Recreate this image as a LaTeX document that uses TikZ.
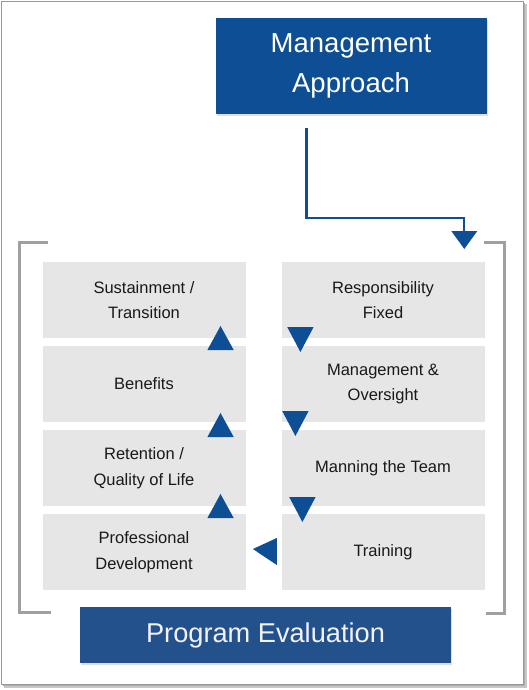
\documentclass[tikz,border=0pt]{standalone}
\usepackage{fontspec}
\setmainfont{Liberation Sans}
\usepackage{xcolor}
\usepackage{tikz}
\usetikzlibrary{arrows.meta,positioning,shadows}
\definecolor{mblue}{RGB}{14,78,148}
\definecolor{eblue}{RGB}{34,81,140}
\definecolor{boxgray}{RGB}{230,230,230}
\definecolor{brack}{RGB}{160,160,160}

\begin{document}
\begin{tikzpicture}[x=1pt,y=-1pt,
    stage/.style={rectangle,fill=boxgray,minimum width=203pt,minimum height=76pt,
      align=center,font=\fontsize{16.5}{25.5}\selectfont,text=black!90,inner sep=0pt},
    headbox/.style={rectangle,fill=mblue,text=white,align=center,inner sep=0pt,
      drop shadow={shadow xshift=1pt,shadow yshift=-2pt,opacity=0.25}}]
        \useasboundingbox (0,0) rectangle (528,690);
        % outer frame
        \fill[black!22] (4,4) rectangle (527,688);
        \fill[black!32] (3,3) rectangle (525,686);
        \filldraw[fill=white,draw=black!40] (1,1) rectangle (523,684);
        % top box and feed line
        \node[headbox,minimum width=271pt,minimum height=96pt,
          font=\fontsize{27.5}{40}\selectfont] (mgmt) at (351,66) {Management\\Approach};
        \coordinate (feed) at (306.5,128);
        \draw[mblue,line width=2.2pt,-{Triangle[width=25.5pt,length=18pt]}]
          (feed) |- (464.3,218) -- (464.3,249);
        % brackets
        \draw[brack,line width=3pt] (47.5,242) -- (19.2,242) -- (19.2,612) -- (50.6,612);
        \draw[brack,line width=3pt] (483.5,242) -- (504.7,242) -- (504.7,613) -- (485.5,613);
        % stages
        \node[stage] (sust) at (144,300) {Sustainment /\\Transition};
        \node[stage] (ben) at (144,384) {Benefits};
        \node[stage] (ret) at (144,468) {Retention /\\Quality of Life};
        \node[stage] (prof) at (144,552) {Professional\\Development};
        \node[stage] (resp) at (383,300) {Responsibility\\Fixed};
        \node[stage] (over) at (383,384) {Management \&\\Oversight};
        \node[stage] (man) at (383,468) {Manning the Team};
        \node[stage] (train) at (383,552) {Training};
        % flow markers
        \foreach \y in {350,437,518}
          \fill[mblue] (207.4,\y) -- (233.7,\y) -- (220.5,\y-24) -- cycle;
        \foreach \x/\y in {300.4/327,295.4/411,302.4/497}
          \fill[mblue] (\x-13.2,\y) -- (\x+13.2,\y) -- (\x,\y+25) -- cycle;
        \fill[mblue] (train.west) ++(-4.5,-14) -- ++(0,27) -- (252.9,549) -- cycle;
        % bottom box
        \node[headbox,fill=eblue,minimum width=371pt,minimum height=56pt,
          font=\fontsize{27.2}{30}\selectfont,text=white!95!blue] (eval) at (265.5,635) {Program Evaluation};
      \end{tikzpicture}
\end{document}
